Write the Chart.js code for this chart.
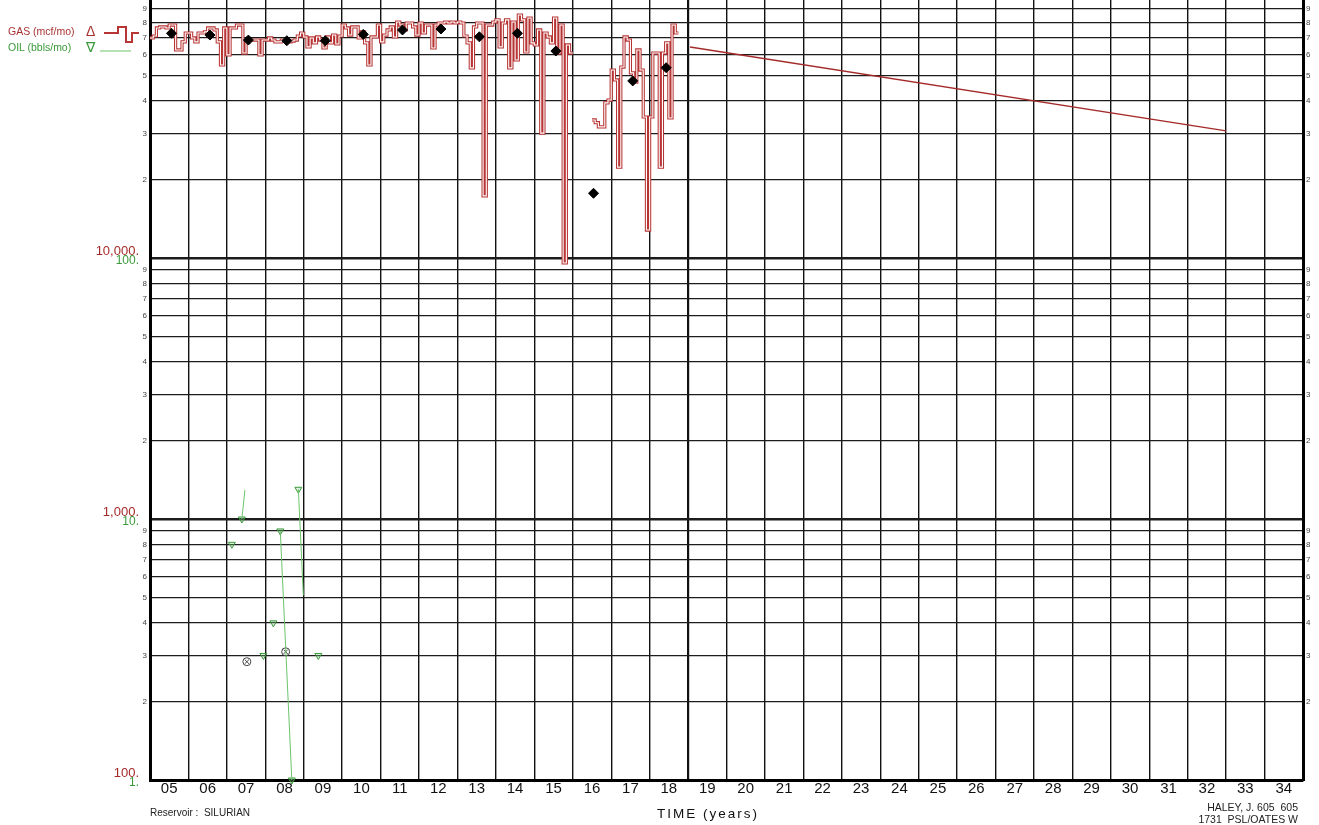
<!DOCTYPE html>
<html>
<head>
<meta charset="utf-8">
<script src="https://cdn.jsdelivr.net/npm/chart.js@4.4.1/dist/chart.umd.min.js"></script>
<style>
  body { margin: 0; background: #fff; }
  #wrap { position: relative; width: 1319px; height: 825px; overflow: hidden; font-family: "Liberation Sans", Arial, sans-serif; }
  #wrap canvas { position: absolute; left: 0; top: 0; }
  .t { position: absolute; white-space: pre; }
</style>
</head>
<body>
<div id="wrap">
  <canvas id="chart" width="1319" height="825"></canvas>

  <!-- legende kiri atas -->
  <div class="t" style="left:8px;top:25px;font-size:10.5px;color:#a83232;">GAS (mcf/mo)</div>
  <div class="t" style="left:86px;top:23px;font-size:14px;color:#a83232;">Δ</div>
  <div class="t" style="left:8px;top:41px;font-size:10.5px;color:#3a9a3a;">OIL (bbls/mo)</div>
  <div class="t" style="left:86px;top:39px;font-size:14px;color:#3a9a3a;">∇</div>
  <svg class="t" style="left:0;top:0;" width="160" height="60">
    <path d="M104 33 H118 V27 H126 V42 H132 V33 H139" stroke="#b83535" stroke-width="2" fill="none"/>
    <line x1="100" y1="51" x2="131" y2="51" stroke="#6cc46c" stroke-width="1"/>
  </svg>

  <!-- teks bawah -->
  <div class="t" style="left:150px;top:807px;font-size:10px;color:#222;">Reservoir :  SILURIAN</div>
  <div class="t" style="left:657px;top:806px;font-size:13.5px;letter-spacing:2px;color:#111;">TIME (years)</div>
  <div class="t" style="right:21px;top:801px;font-size:10.5px;line-height:12px;text-align:right;color:#222;">HALEY, J. 605  605
1731  PSL/OATES W</div>
</div>

<script>
/* ── Data gas bulanan (mcf/mo), per tahun ─────────────────────────────── */
const gasYears = [2005, 2006, 2007, 2008, 2009, 2010, 2011, 2012, 2013, 2014, 2015, 2016, 2017, 2018];
const gas05 = [69700, 70900, 76100, 76800, 76800, 76100, 78100, 78100, 62700, 62700, 67300, 72800];
const gas06 = [72800, 69700, 67300, 72800, 72800, 73500, 76100, 76100, 74800, 67300, 54900, 76100];
const gas07 = [60000, 76100, 76100, 78100, 78100, 61000, 67300, 68400, 68400, 68400, 60000, 68400];
const gas08 = [68400, 69700, 68400, 67300, 67300, 68400, 68400, 67300, 67800, 68400, 70900, 72800];
const gas09 = [70300, 64400, 69700, 66700, 70300, 68400, 63800, 70300, 66700, 71500, 66100, 70900];
const gas10 = [78100, 76100, 71500, 76800, 76800, 69700, 73500, 66700, 54900, 70300, 70300, 78100];
const gas11 = [67300, 71500, 74800, 76800, 70300, 80200, 78100, 74800, 79500, 79500, 76800, 71500];
const gas12 = [79500, 72800, 78100, 78100, 63800, 78100, 79500, 79500, 80200, 79500, 80200, 79500];
const gas13 = [80200, 79500, 70900, 66700, 53500, 76800, 79500, 79500, 17300, 78100, 78100, 80200];
const gas14 = [81700, 64400, 79500, 81700, 53500, 80200, 57400, 85300, 81700, 61600, 83100, 66700];
const gas15 = [65500, 74800, 30100, 72800, 70300, 66700, 83100, 61000, 78100, 9570, 65500, 61000];
const gas16 = [null, null, null, null, null, null, 33800, 33000, 31800, 31800, 39300, 40300];
const gas17 = [52500, 48100, 22300, 53900, 70300, 68400, 51200, 47200, 62700, 52500, 34700, 12800];
const gas18 = [34700, 61000, 61000, 22300, 61000, 66700, 34400, 78100, 72800];
const gasByYear = [gas05, gas06, gas07, gas08, gas09, gas10, gas11, gas12, gas13, gas14, gas15, gas16, gas17, gas18];

// rata-rata tahunan (titik belah ketupat hitam)
const avgYears = [2005.56, 2006.56, 2007.56, 2008.56, 2009.56, 2010.55, 2011.57, 2012.57, 2013.57, 2014.56, 2015.56, 2016.54, 2017.56, 2018.43];
const avgGas   = [72600, 71500, 68400, 68000, 68000, 71900, 74750, 75400, 70400, 72600, 62100, 17700, 47700, 53600];

// garis prediksi decline
const forecastYears = [2019.05, 2033.0];
const forecastGas   = [64300, 30700];

/* ── Data minyak (bbls/mo) ───────────────────────────────────────────── */
const oilLineYears = [2007.47, 2007.39, 2007.39, 2008.39, 2008.69, 2008.69, 2008.86, 2008.99];
const oilLineVals  = [12.9, 10.0, null, 9.0, 1.0, null, 13.0, 5.1];
const oilMarkYears = [2007.13, 2007.39, 2007.95, 2008.21, 2008.39, 2008.69, 2008.86, 2009.38];
const oilMarkVals  = [8.0, 10.0, 3.0, 4.0, 9.0, 1.0, 13.0, 3.0];
const otherYears   = [2007.52, 2008.53];
const otherVals    = [2.84, 3.1];

/* ── Sumbu ───────────────────────────────────────────────────────────── */
const decadesGas = [100, 1000, 10000];
const decadeGasText = ['100.', '1,000.', '10,000.'];
const decadeOilText = ['1.', '10.', '100.'];
const digits = [1, 2, 3, 4, 5, 6, 7, 8, 9];
const yearFirst = 2005, yearLast = 2035;

const RED = '#b83535', RED_TXT = '#a52a2a', GREEN = '#6cc46c', GREEN_TXT = '#3a9a3a';
const GAS_MAX = 97400;   // batas atas sedikit di bawah 100,000 (terpotong di gambar)

/* ── Susun titik ─────────────────────────────────────────────────────── */
const gasPoints = [];
gasByYear.forEach((vals, k) => {
    vals.forEach((v, m) => {
        const x = gasYears[k] + m / 12;
        if (v === null) { gasPoints.push({ x, y: null }); return; }
        gasPoints.push({ x, y: v });
        const next = m + 1 < vals.length ? vals[m + 1] : (gasByYear[k + 1] ? gasByYear[k + 1][0] : undefined);
        if (next === null || next === undefined) gasPoints.push({ x: x + 1 / 12, y: v });
    });
});
const zip = (xs, ys) => xs.map((x, i) => ({ x, y: ys[i] }));

const gasTicks = [];
decadesGas.forEach(d => digits.forEach(s => gasTicks.push(d * s)));
const yearTicks = [];
for (let y = yearFirst; y <= yearLast; y += 0.5) yearTicks.push(y);

const isDecade = v => { const e = Math.floor(Math.log10(v) + 1e-9); return Math.abs(v / Math.pow(10, e) - 1) < 1e-6; };
const sigOf = v => { const e = Math.floor(Math.log10(v) + 1e-9); return Math.round(v / Math.pow(10, e)); };

/* ── Plugin label dekade merah/hijau ─────────────────────────────────── */
const decadeLabels = {
    id: 'decadeLabels',
    afterDraw(chart) {
        const { ctx } = chart;
        const sc = chart.scales.y;
        ctx.save();
        ctx.textAlign = 'right';
        ctx.textBaseline = 'alphabetic';
        decadesGas.forEach((v, i) => {
            const py = sc.getPixelForValue(v);
            ctx.font = '13px "Liberation Sans", Arial, sans-serif';
            ctx.fillStyle = RED_TXT;
            ctx.fillText(decadeGasText[i], 139, py - 3);
            ctx.font = '12px "Liberation Sans", Arial, sans-serif';
            ctx.fillStyle = GREEN_TXT;
            ctx.fillText(decadeOilText[i], 139, py + 6);
        });
        ctx.restore();
    }
};

const noPad = s => { s.paddingTop = 0; s.paddingBottom = 0; s.paddingLeft = 0; s.paddingRight = 0; };
const minorLabel = v => (isDecade(v) ? '' : String(sigOf(v)));

/* ── Chart ───────────────────────────────────────────────────────────── */
new Chart(document.getElementById('chart'), {
    type: 'line',
    data: {
        datasets: [
            { label: 'avg', data: zip(avgYears, avgGas), showLine: false, pointStyle: 'rectRot',
              pointRadius: 5, pointBackgroundColor: '#000', pointBorderColor: '#000', order: -1, yAxisID: 'y' },
            { label: 'gas-inner', data: gasPoints, stepped: true, borderColor: '#fff', borderWidth: 1.1,
              pointRadius: 0, spanGaps: false, order: 0, yAxisID: 'y' },
            { label: 'gas', data: gasPoints, stepped: true, borderColor: RED, borderWidth: 3.2,
              pointRadius: 0, spanGaps: false, order: 1, yAxisID: 'y' },
            { label: 'forecast', data: zip(forecastYears, forecastGas), borderColor: '#a52a2a', borderWidth: 1.5,
              pointRadius: 0, order: 2, yAxisID: 'y' },
            { label: 'oil-line', data: zip(oilLineYears, oilLineVals), borderColor: GREEN, borderWidth: 1,
              pointRadius: 0, spanGaps: false, order: 3, yAxisID: 'yOil' },
            { label: 'oil', data: zip(oilMarkYears, oilMarkVals), showLine: false, pointStyle: 'triangle',
              rotation: 180, pointRadius: 4, pointBorderWidth: 1, pointBorderColor: GREEN_TXT,
              pointBackgroundColor: 'rgba(140,210,140,0.3)', clip: false, order: 3, yAxisID: 'yOil' },
            { label: 'other-c', data: zip(otherYears, otherVals), showLine: false, pointStyle: 'circle',
              pointRadius: 4, pointBorderWidth: 1, pointBorderColor: '#444', pointBackgroundColor: 'rgba(0,0,0,0)',
              order: 3, yAxisID: 'yOil' },
            { label: 'other-x', data: zip(otherYears, otherVals), showLine: false, pointStyle: 'crossRot',
              pointRadius: 3, pointBorderWidth: 1, pointBorderColor: '#444', order: 3, yAxisID: 'yOil' }
        ]
    },
    options: {
        responsive: false,
        devicePixelRatio: 1,
        animation: false,
        layout: { padding: 0, autoPadding: false },
        plugins: { legend: { display: false }, tooltip: { enabled: false } },
        scales: {
            x: {
                type: 'linear', min: yearFirst, max: yearLast,
                afterBuildTicks: s => { s.ticks = yearTicks.map(v => ({ value: v })); },
                afterFit: s => { s.height = 45; noPad(s); },
                ticks: {
                    autoSkip: false, maxRotation: 0, padding: 0, color: '#111',
                    font: { family: '"Liberation Sans", Arial, sans-serif', size: 15 },
                    callback: v => (v % 1 === 0 ? '' : String(Math.floor(v) % 100).padStart(2, '0'))
                },
                grid: {
                    drawTicks: false,
                    color: c => (c.tick && c.tick.value % 1 === 0 ? '#111' : 'rgba(0,0,0,0)'),
                    lineWidth: c => (c.tick && c.tick.value === 2019 ? 2.2 : 1.4)
                },
                border: { display: true, color: '#000', width: 3 }
            },
            y: {
                type: 'logarithmic', position: 'left', min: 100, max: GAS_MAX,
                afterBuildTicks: s => { s.ticks = gasTicks.map(v => ({ value: v })); },
                afterFit: s => { s.width = 150; noPad(s); },
                ticks: {
                    autoSkip: false, padding: 3, color: '#444',
                    font: { family: '"Liberation Sans", Arial, sans-serif', size: 8 },
                    callback: minorLabel
                },
                grid: {
                    drawTicks: false,
                    color: '#1c1c1c',
                    lineWidth: c => (c.tick && isDecade(c.tick.value) ? 2.6 : 1.3)
                },
                border: { display: true, color: '#000', width: 3 }
            },
            y2: {
                type: 'logarithmic', position: 'right', min: 100, max: GAS_MAX,
                afterBuildTicks: s => { s.ticks = gasTicks.map(v => ({ value: v })); },
                afterFit: s => { s.width = 16; noPad(s); },
                ticks: {
                    autoSkip: false, padding: 3, color: '#444',
                    font: { family: '"Liberation Sans", Arial, sans-serif', size: 8 },
                    callback: minorLabel
                },
                grid: { display: false, drawTicks: false },
                border: { display: true, color: '#000', width: 3 }
            },
            yOil: {
                type: 'logarithmic', display: false, min: 1, max: GAS_MAX / 100
            }
        }
    },
    plugins: [decadeLabels]
});
</script>
</body>
</html>
